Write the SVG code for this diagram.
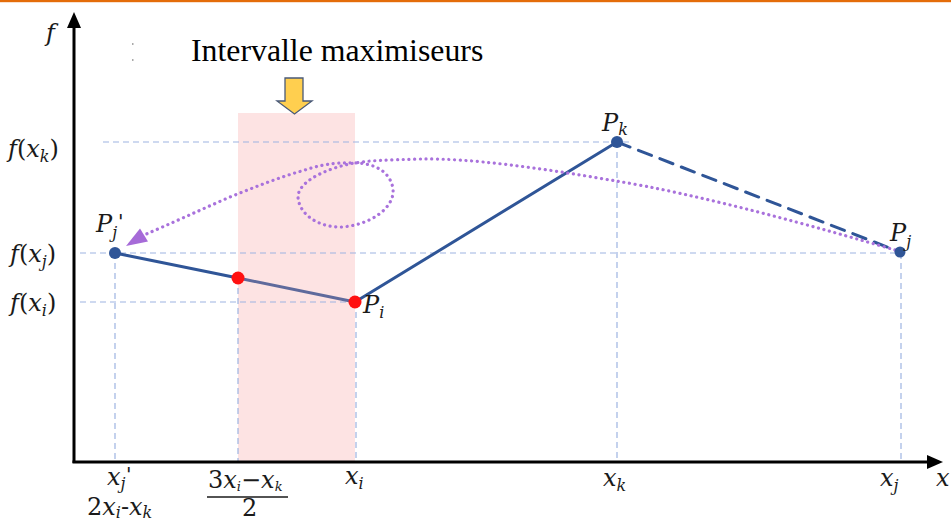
<svg xmlns="http://www.w3.org/2000/svg" width="951" height="522" viewBox="0 0 951 522">
<defs>
<style>
.m{font-family:"DejaVu Serif","Liberation Serif",serif;font-style:italic;font-size:24px;fill:#1a1a1a}
.up{font-style:normal}
.sub{font-size:16px}
.pr{font-family:"DejaVu Sans",sans-serif;font-style:italic;font-size:20px;fill:#1a1a1a}
.guide{stroke:#9DB4E2;stroke-width:1.2;stroke-dasharray:6 4;fill:none}
.axis{stroke:#000;stroke-width:3;fill:none}
.seg{stroke:#2F5597;stroke-width:3;fill:none;stroke-linecap:round}
.blue{fill:#2F5597}
.red{fill:#FF1010}
.loop{stroke:#A972DC;stroke-width:3.2;fill:none;stroke-dasharray:0.1 5.6;stroke-linecap:round}
</style>
</defs>
<rect x="0" y="0" width="951" height="522" fill="#fff"/>
<rect x="0" y="0" width="951" height="2.2" fill="#E46C0A"/>

<g id="interval">
<rect x="238" y="113" width="117" height="349" fill="#FDE3E3"/>
<path d="M285,78 L303,78 L303,101 L312,101 L294.5,114 L277,101 L285,101 Z" fill="#FFCF4F" stroke="#4A5A78" stroke-width="1.3" stroke-linejoin="miter"/>
<text x="191" y="61" font-family="Liberation Serif, Times New Roman, serif" font-size="31.8" fill="#000">Intervalle maximiseurs</text>
<rect x="132" y="43" width="1.5" height="2" fill="#aaa"/>
<rect x="132" y="59" width="1.5" height="2" fill="#aaa"/>
</g>

<g id="guides">
<line class="guide" x1="103" y1="142" x2="633" y2="142"/>
<line class="guide" x1="80" y1="253" x2="900" y2="253"/>
<line class="guide" x1="80" y1="302" x2="355" y2="302"/>
<line class="guide" x1="115" y1="253" x2="115" y2="461"/>
<line class="guide" x1="238" y1="278" x2="238" y2="461"/>
<line class="guide" x1="356" y1="302" x2="356" y2="461"/>
<line class="guide" x1="617" y1="142" x2="617" y2="461"/>
<line class="guide" x1="901" y1="253" x2="901" y2="461"/>
</g>

<g id="axes">
<line class="axis" x1="74" y1="26" x2="74" y2="463"/>
<line class="axis" x1="72.5" y1="462" x2="929" y2="462"/>
<polygon points="74,12 81,28 67,28" fill="#000"/>
<polygon points="943,462 927,455 927,469" fill="#000"/>
<text class="m" x="46" y="41" font-size="26">f</text>
<text class="m" x="936" y="486">x</text>
<text class="m" x="8" y="157">f<tspan class="up">(</tspan>x<tspan class="sub" dy="5">k</tspan><tspan class="up" dy="-5">)</tspan></text>
<text class="m" x="10" y="262">f<tspan class="up">(</tspan>x<tspan class="sub" dy="5">j</tspan><tspan class="up" dy="-5">)</tspan></text>
<text class="m" x="10" y="311">f<tspan class="up">(</tspan>x<tspan class="sub" dy="5">i</tspan><tspan class="up" dy="-5">)</tspan></text>
<text class="m" x="107" y="485">x<tspan class="sub" dy="4">j</tspan></text>
<text class="pr" x="126" y="481">'</text>
<text class="m" x="87" y="515" font-size="22"><tspan class="up">2</tspan>x<tspan class="sub" font-size="15" dy="3">i</tspan><tspan class="up" dy="-3">-</tspan>x<tspan class="sub" font-size="15" dy="3">k</tspan></text>
<text class="m" x="208" y="488" font-size="19"><tspan class="up">3</tspan>x<tspan font-size="13" dy="3">i</tspan><tspan class="up" dy="-3">−</tspan>x<tspan font-size="13" dy="3">k</tspan></text>
<line x1="207" y1="497" x2="288" y2="497" stroke="#1a1a1a" stroke-width="1.6"/>
<text class="m up" x="242" y="516" font-size="15">2</text>
<text class="m" x="345" y="484">x<tspan class="sub" dy="5">i</tspan></text>
<text class="m" x="603" y="486">x<tspan class="sub" dy="5">k</tspan></text>
<text class="m" x="880" y="486">x<tspan class="sub" dy="5">j</tspan></text>
</g>

<g id="connectors">
<line class="seg" x1="115" y1="253" x2="238" y2="278"/>
<line x1="238" y1="278" x2="355" y2="302" stroke="#5F6A9C" stroke-width="3" stroke-linecap="round"/>
<line class="seg" x1="355" y1="302" x2="617" y2="142"/>
<line class="seg" x1="617" y1="142" x2="900" y2="252" stroke-dasharray="14 9" stroke-linecap="butt"/>
<path class="loop" d="M895,250 C820,228 700,194 610,180 C540,168 470,158 420,159 C390,160 365,160 345,165 C318,172 298,184 298,197 C299,215 320,228 342,227 C370,225 395,208 393,189 C391,174 378,164 357,163 C335,162 320,165 305,170 C280,177 255,187 230,197 C200,210 170,224 144,235"/>
<polygon points="126,246 140,228.5 148,241.5" fill="#A66BD8"/>
</g>

<g id="node-Pj-prime">
<circle class="blue" cx="115" cy="253" r="6"/>
<text class="m" x="96" y="232">P<tspan class="sub" dy="6">j</tspan></text>
<text class="pr" x="118" y="228">'</text>
</g>
<g id="node-mid">
<circle class="red" cx="238" cy="278" r="6.5"/>
</g>
<g id="node-Pi">
<circle class="red" cx="355" cy="302" r="6.5"/>
<text class="m" x="363" y="313">P<tspan class="sub" dy="5">i</tspan></text>
</g>
<g id="node-Pk">
<circle class="blue" cx="617" cy="142" r="6"/>
<text class="m" x="602" y="131">P<tspan class="sub" dy="4">k</tspan></text>
</g>
<g id="node-Pj">
<circle class="blue" cx="900" cy="252" r="5.5"/>
<text class="m" x="890" y="241">P<tspan class="sub" dy="6">j</tspan></text>
</g>
</svg>
